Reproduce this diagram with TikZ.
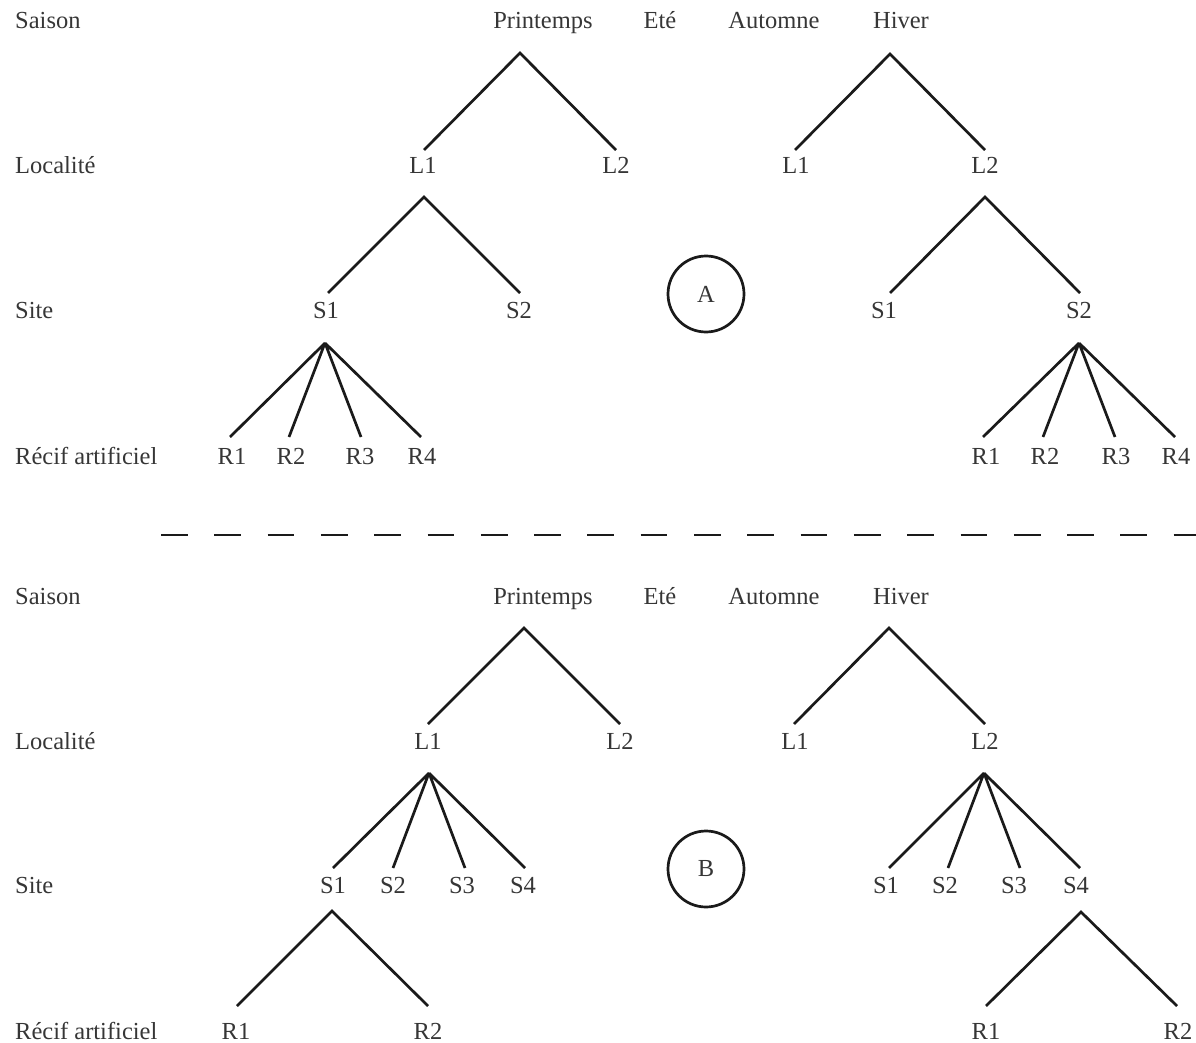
\documentclass[tikz,border=0pt]{standalone}
\usepackage{fontspec}
\setmainfont{Liberation Serif}
\definecolor{txt}{HTML}{363636}
\definecolor{ink}{HTML}{1A1A1A}
\begin{document}
\begin{tikzpicture}[x=1pt,y=-1pt,
  lab/.style={anchor=base,inner sep=0pt,text=txt,font=\fontsize{24.5}{28}\selectfont},
  rowlab/.style={lab,anchor=base west},
  branch/.style={draw=ink,line width=2.7pt},
  tag/.style={circle,draw=ink,line width=2.7pt,minimum size=76pt,inner sep=0pt,text=txt,font=\fontsize{24.5}{28}\selectfont}]
\useasboundingbox (0,0) rectangle (1196,1043);
% ================= TOP (A) =================
\node[rowlab] (aSai) at (15,29) {Saison};
\node[rowlab] (aLoc) at (15,174) {Localité};
\node[rowlab] (aSit) at (15,318) {Site};
\node[rowlab] (aRec) at (15,464) {Récif artificiel};
\node[lab] (aPr) at (543,29) {Printemps};
\node[lab] (aEt) at (660,29) {Eté};
\node[lab] (aAu) at (774,29) {Automne};
\node[lab] (aHi) at (901,29) {Hiver};
\node[lab] (aL1) at (423,174) {L1};
\node[lab] (aL2) at (616,174) {L2};
\node[lab] (aL1b) at (796,174) {L1};
\node[lab] (aL2b) at (985,174) {L2};
\node[lab] (aS1) at (326,318) {S1};
\node[lab] (aS2) at (519,318) {S2};
\node[lab] (aS1b) at (884,318) {S1};
\node[lab] (aS2b) at (1079,318) {S2};
\node[lab] (aR1) at (232,464) {R1};
\node[lab] (aR2) at (291,464) {R2};
\node[lab] (aR3) at (360,464) {R3};
\node[lab] (aR4) at (422,464) {R4};
\node[lab] (aR1b) at (986,464) {R1};
\node[lab] (aR2b) at (1045,464) {R2};
\node[lab] (aR3b) at (1116,464) {R3};
\node[lab] (aR4b) at (1176,464) {R4};
\node[tag] (cA) at (706,294) {A};
% connector ends
\coordinate (aPrT) at (520,53);
\coordinate (aL1T) at (424,150);
\coordinate (aL2T) at (616,150);
\coordinate (aHiT) at (890,54);
\coordinate (aL1bT) at (795,150);
\coordinate (aL2bT) at (985,150);
\coordinate (aL1D) at (424,197);
\coordinate (aS1T) at (328,293);
\coordinate (aS2T) at (520,293);
\coordinate (aL2bD) at (985,197);
\coordinate (aS1bT) at (890,293);
\coordinate (aS2bT) at (1080,293);
\coordinate (aS1D) at (325,343);
\coordinate (aR1T) at (230,437);
\coordinate (aR2T) at (289,437);
\coordinate (aR3T) at (361,437);
\coordinate (aR4T) at (421,437);
\coordinate (aS2bD) at (1079,343);
\coordinate (aR1bT) at (983,437);
\coordinate (aR2bT) at (1043,437);
\coordinate (aR3bT) at (1115,437);
\coordinate (aR4bT) at (1175,437);
\draw[branch] (aL1T) -- (aPrT) -- (aL2T);
\draw[branch] (aL1bT) -- (aHiT) -- (aL2bT);
\draw[branch] (aS1T) -- (aL1D) -- (aS2T);
\draw[branch] (aS1bT) -- (aL2bD) -- (aS2bT);
\draw[branch] (aS1D) -- (aR1T) (aS1D) -- (aR2T) (aS1D) -- (aR3T) (aS1D) -- (aR4T);
\draw[branch] (aS2bD) -- (aR1bT) (aS2bD) -- (aR2bT) (aS2bD) -- (aR3bT) (aS2bD) -- (aR4bT);
% ================= separator =================
\coordinate (sepL) at (161,535);
\coordinate (sepR) at (1200,535);
\draw[draw=ink,line width=2.7pt,dash pattern=on 26.7pt off 26.6pt] (sepL) -- (sepR);
% ================= BOTTOM (B) =================
\node[rowlab] (bSai) at (15,604) {Saison};
\node[rowlab] (bLoc) at (15,749) {Localité};
\node[rowlab] (bSit) at (15,893) {Site};
\node[rowlab] (bRec) at (15,1039) {Récif artificiel};
\node[lab] (bPr) at (543,604) {Printemps};
\node[lab] (bEt) at (660,604) {Eté};
\node[lab] (bAu) at (774,604) {Automne};
\node[lab] (bHi) at (901,604) {Hiver};
\node[lab] (bL1) at (428,749) {L1};
\node[lab] (bL2) at (620,749) {L2};
\node[lab] (bL1b) at (795,749) {L1};
\node[lab] (bL2b) at (985,749) {L2};
\node[lab] (bS1) at (333,893) {S1};
\node[lab] (bS2) at (393,893) {S2};
\node[lab] (bS3) at (462,893) {S3};
\node[lab] (bS4) at (523,893) {S4};
\node[lab] (bS1b) at (886,893) {S1};
\node[lab] (bS2b) at (945,893) {S2};
\node[lab] (bS3b) at (1014,893) {S3};
\node[lab] (bS4b) at (1076,893) {S4};
\node[lab] (bR1) at (236,1039) {R1};
\node[lab] (bR2) at (428,1039) {R2};
\node[lab] (bR1b) at (986,1039) {R1};
\node[lab] (bR2b) at (1178,1039) {R2};
\node[tag] (cB) at (706,869) {B};
\coordinate (bPrT) at (524,628);
\coordinate (bL1T) at (428,724);
\coordinate (bL2T) at (620,724);
\coordinate (bHiT) at (889,628);
\coordinate (bL1bT) at (794,724);
\coordinate (bL2bT) at (985,724);
\coordinate (bL1D) at (429,773);
\coordinate (bS1T) at (333,868);
\coordinate (bS2T) at (393,868);
\coordinate (bS3T) at (465,868);
\coordinate (bS4T) at (525,868);
\coordinate (bL2bD) at (984,773);
\coordinate (bS1bT) at (889,868);
\coordinate (bS2bT) at (948,868);
\coordinate (bS3bT) at (1020,868);
\coordinate (bS4bT) at (1080,868);
\coordinate (bS1D) at (332,911);
\coordinate (bR1T) at (237,1006);
\coordinate (bR2T) at (428,1006);
\coordinate (bS4bD) at (1081,912);
\coordinate (bR1bT) at (986,1006);
\coordinate (bR2bT) at (1177,1006);
\draw[branch] (bL1T) -- (bPrT) -- (bL2T);
\draw[branch] (bL1bT) -- (bHiT) -- (bL2bT);
\draw[branch] (bL1D) -- (bS1T) (bL1D) -- (bS2T) (bL1D) -- (bS3T) (bL1D) -- (bS4T);
\draw[branch] (bL2bD) -- (bS1bT) (bL2bD) -- (bS2bT) (bL2bD) -- (bS3bT) (bL2bD) -- (bS4bT);
\draw[branch] (bR1T) -- (bS1D) -- (bR2T);
\draw[branch] (bR1bT) -- (bS4bD) -- (bR2bT);
\end{tikzpicture}
\end{document}
